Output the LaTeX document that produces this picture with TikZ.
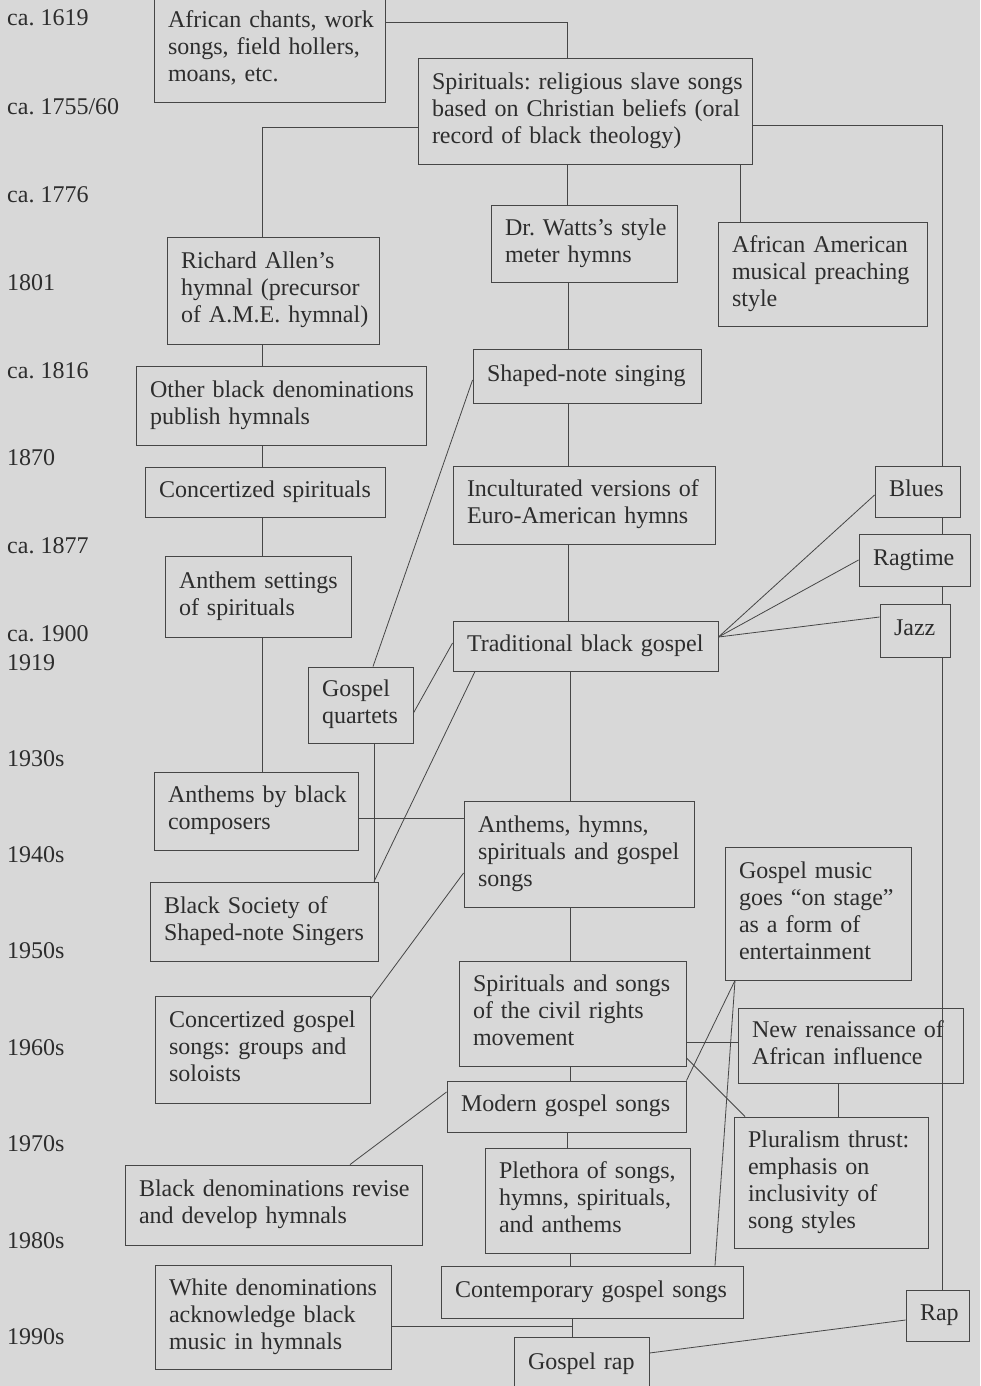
\documentclass[tikz,border=0pt]{standalone}
\usepackage{fontspec}
\setmainfont{Liberation Serif}
\frenchspacing
\definecolor{bgc}{RGB}{216,216,216}
\definecolor{ink}{RGB}{45,45,45}
\definecolor{edgec}{RGB}{70,70,70}
\newcommand\bx[6]{%
  \pgfmathsetmacro\bxw{#4-#2}\pgfmathsetmacro\bxh{#5-#3}\pgfmathsetmacro\bxt{#4-#2-28}%
  \node[box, minimum width=\bxw pt, minimum height=\bxh pt, text width=\bxt pt] (#1) at ({(#2+#4)/2},{(#3+#5)/2}) {\begin{tabular}{@{}l@{}}#6\end{tabular}};}
\begin{document}
\begin{tikzpicture}[x=1pt,y=-1pt,
  box/.style={draw=edgec, line width=0.9pt, inner sep=0pt, align=left, text=ink, font=\fontsize{24}{27}\selectfont\frenchspacing},
  conn/.style={draw=edgec, line width=0.8pt},
  datel/.style={anchor=base west, text=ink, inner sep=0pt, font=\fontsize{24}{27}\selectfont\frenchspacing}]
\fill[bgc] (0,0) rectangle (980,1386);
\useasboundingbox (0,0) rectangle (980,1386);
% dates
\node[datel] (d1) at (7,26) {ca. 1619};
\node[datel] (d2) at (7,115) {ca. 1755/60};
\node[datel] (d3) at (7,202) {ca. 1776};
\node[datel] (d4) at (7,290) {1801};
\node[datel] (d5) at (7,378) {ca. 1816};
\node[datel] (d6) at (7,465) {1870};
\node[datel] (d7) at (7,553) {ca. 1877};
\node[datel] (d8) at (7,641) {ca. 1900};
\node[datel] (d9) at (7,670) {1919};
\node[datel] (d10) at (7,766) {1930s};
\node[datel] (d11) at (7,862) {1940s};
\node[datel] (d12) at (7,958) {1950s};
\node[datel] (d13) at (7,1055) {1960s};
\node[datel] (d14) at (7,1151) {1970s};
\node[datel] (d15) at (7,1248) {1980s};
\node[datel] (d16) at (7,1344) {1990s};
% boxes
\bx{chants}{154}{-3}{385}{102}{African chants, work\\songs, field hollers,\\moans, etc.}
\bx{spir}{418}{58}{752}{164}{Spirituals: religious slave songs\\based on Christian beliefs (oral\\record of black theology)}
\bx{watts}{491}{205}{677}{282}{Dr. Watts’s style\\meter hymns}
\bx{aamp}{718}{222}{927}{326}{African American\\musical preaching\\style}
\bx{allen}{167}{237}{379}{344}{Richard Allen’s\\hymnal (precursor\\of A.M.E. hymnal)}
\bx{other}{136}{366}{426}{445}{Other black denominations\\publish hymnals}
\bx{shaped}{473}{349}{701}{403}{Shaped-note singing}
\bx{concsp}{145}{467}{385}{517}{Concertized spirituals}
\bx{incult}{453}{466}{715}{544}{Inculturated versions of\\Euro-American hymns}
\bx{blues}{875}{466}{960}{517}{Blues}
\bx{ragtime}{859}{534}{970}{586}{Ragtime}
\bx{jazz}{880}{604}{950}{657}{Jazz}
\bx{anthset}{165}{556}{351}{637}{Anthem settings\\of spirituals}
\bx{trad}{453}{621}{718}{671}{Traditional black gospel}
\bx{quart}{308}{667}{413}{743}{Gospel\\quartets}
\bx{anthblack}{154}{772}{358}{850}{Anthems by black\\composers}
\bx{anthhym}{464}{801}{694}{907}{Anthems, hymns,\\spirituals and gospel\\songs}
\bx{stage}{725}{847}{911}{980}{Gospel music\\goes “on stage”\\as a form of\\entertainment}
\bx{society}{150}{882}{378}{961}{Black Society of\\Shaped-note Singers}
\bx{civil}{459}{961}{686}{1066}{Spirituals and songs\\of the civil rights\\movement}
\bx{concgos}{155}{996}{370}{1103}{Concertized gospel\\songs: groups and\\soloists}
\bx{renais}{738}{1008}{963}{1083}{New renaissance of\\African influence}
\bx{modern}{447}{1081}{686}{1132}{Modern gospel songs}
\bx{plural}{734}{1117}{928}{1248}{Pluralism thrust:\\emphasis on\\inclusivity of\\song styles}
\bx{revise}{125}{1165}{422}{1245}{Black denominations revise\\and develop hymnals}
\bx{pleth}{485}{1148}{690}{1253}{Plethora of songs,\\hymns, spirituals,\\and anthems}
\bx{contemp}{441}{1266}{743}{1318}{Contemporary gospel songs}
\bx{white}{155}{1265}{391}{1369}{White denominations\\acknowledge black\\music in hymnals}
\bx{rap}{906}{1290}{969}{1341}{Rap}
\bx{grap}{514}{1337}{649}{1392}{Gospel rap}
% connectors
\draw[conn] (chants.east |- 0,22) -| (spir.north -| 567,0);
\draw[conn] (spir.west |- 0,127) -| (allen.north -| 262,0);
\draw[conn] (spir.east |- 0,125) -| (blues.north -| 942,0);
\draw[conn] (spir.south -| 567,0) -- (watts.north -| 567,0);
\draw[conn] (spir.south -| 740,0) -- (aamp.north -| 740,0);
\draw[conn] (allen.south -| 262,0) -- (other.north -| 262,0);
\draw[conn] (watts.south -| 568,0) -- (shaped.north -| 568,0);
\draw[conn] (other.south -| 262,0) -- (concsp.north -| 262,0);
\draw[conn] (shaped.south -| 568,0) -- (incult.north -| 568,0);
\draw[conn] (concsp.south -| 262,0) -- (anthset.north -| 262,0);
\draw[conn] (anthset.south -| 262,0) -- (anthblack.north -| 262,0);
\draw[conn] (incult.south -| 568,0) -- (trad.north -| 568,0);
\draw[conn] (shaped.west |- 0,380) -- (quart.north -| 373,0);
\draw[conn] (quart.east |- 0,713) -- (trad.west |- 0,643);
\draw[conn] (trad.south -| 475,0) -- (society.north -| 374,0);
\draw[conn] (quart.south -| 374,0) -- (society.north -| 374,0);
\draw[conn] (trad.east |- 0,637) -- (blues.west |- 0,495);
\draw[conn] (trad.east |- 0,637) -- (ragtime.west |- 0,560);
\draw[conn] (trad.east |- 0,637) -- (jazz.west |- 0,617);
\draw[conn] (blues.south -| 942,0) -- (ragtime.north -| 942,0);
\draw[conn] (ragtime.south -| 942,0) -- (jazz.north -| 942,0);
\draw[conn] (jazz.south -| 942,0) -- (rap.north -| 942,0);
\draw[conn] (trad.south -| 570,0) -- (anthhym.north -| 570,0);
\draw[conn] (anthblack.east |- 0,818) -- (anthhym.west |- 0,818);
\draw[conn] (anthhym.west |- 0,873) -- (concgos.east |- 0,999);
\draw[conn] (anthhym.south -| 570,0) -- (civil.north -| 570,0);
\draw[conn] (civil.south -| 570,0) -- (modern.north -| 570,0);
\draw[conn] (civil.east |- 0,1042) -- (renais.west |- 0,1042);
\draw[conn] (civil.east |- 0,1058) -- (plural.north -| 745,0);
\draw[conn] (stage.south -| 735,0) -- (modern.north east);
\draw[conn] (stage.south -| 735,0) -- (contemp.north -| 715,0);
\draw[conn] (renais.south -| 838,0) -- (plural.north -| 838,0);
\draw[conn] (modern.west |- 0,1092) -- (revise.north -| 350,0);
\draw[conn] (modern.south -| 567,0) -- (pleth.north -| 567,0);
\draw[conn] (pleth.south -| 570,0) -- (contemp.north -| 570,0);
\draw[conn] (contemp.south -| 572,0) -- (grap.north -| 572,0);
\draw[conn] (white.east |- 0,1326) -| (grap.north -| 572,0);
\draw[conn] (rap.west |- 0,1320) -- (grap.east |- 0,1353);
\end{tikzpicture}
\end{document}
